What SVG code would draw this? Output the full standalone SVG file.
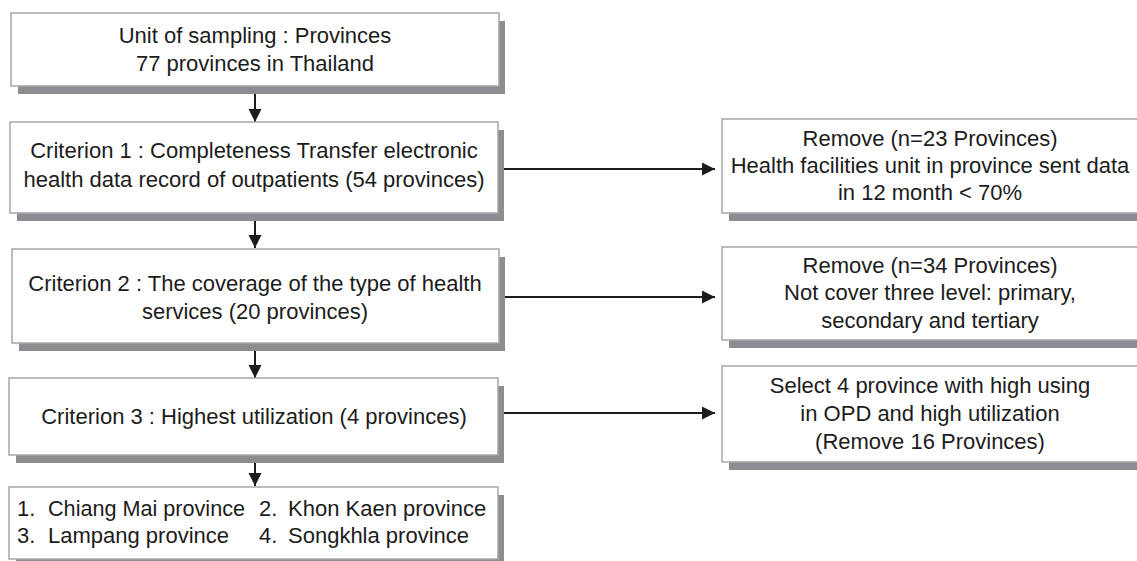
<svg xmlns="http://www.w3.org/2000/svg" width="1137" height="561" viewBox="0 0 1137 561">
<defs>
<style>
.box{fill:#ffffff;stroke:#a6a6a8;stroke-width:1.5}
.sh{fill:#8c8d91}
text{font-family:"Liberation Sans",Arial,Helvetica,sans-serif;font-size:22px;fill:#1c1c1c}
.c{text-anchor:middle}
.ln{stroke:#1c1c1c;stroke-width:2;fill:none}
</style>
<marker id="ah" markerUnits="userSpaceOnUse" markerWidth="14" markerHeight="14" refX="13" refY="6.5" orient="auto">
<path d="M0,0 L13,6.5 L0,13 Z" fill="#1c1c1c"/>
</marker>
</defs>
<rect width="1137" height="561" fill="#ffffff"/>

<g id="connectors">
<line class="ln" x1="255" y1="86" x2="255" y2="122" marker-end="url(#ah)"/>
<line class="ln" x1="255" y1="221" x2="255" y2="248" marker-end="url(#ah)"/>
<line class="ln" x1="255" y1="351" x2="255" y2="378" marker-end="url(#ah)"/>
<line class="ln" x1="255" y1="463" x2="255" y2="486" marker-end="url(#ah)"/>
<line class="ln" x1="504" y1="169" x2="715" y2="169" marker-end="url(#ah)"/>
<line class="ln" x1="505" y1="297" x2="715" y2="297" marker-end="url(#ah)"/>
<line class="ln" x1="504" y1="413" x2="715" y2="413" marker-end="url(#ah)"/>
</g>

<g id="unit">
<rect class="sh" x="18" y="21" width="487" height="73"/>
<rect class="box" x="11" y="13" width="488" height="73"/>
<text class="c" x="255" y="43">Unit of sampling : Provinces</text>
<text class="c" x="255" y="71">77 provinces in Thailand</text>
</g>

<g id="criterion1">
<rect class="sh" x="17" y="130" width="487" height="91"/>
<rect class="box" x="10" y="122" width="488" height="91"/>
<text class="c" x="254" y="158">Criterion 1 : Completeness Transfer electronic</text>
<text class="c" x="254" y="187">health data record of outpatients (54 provinces)</text>
</g>

<g id="criterion2">
<rect class="sh" x="19" y="257" width="486" height="94"/>
<rect class="box" x="12" y="249" width="487" height="94"/>
<text class="c" x="255" y="291">Criterion 2 : The coverage of the type of health</text>
<text class="c" x="255" y="319">services (20 provinces)</text>
</g>

<g id="criterion3">
<rect class="sh" x="16" y="386" width="488" height="77"/>
<rect class="box" x="9" y="378" width="489" height="77"/>
<text class="c" x="254" y="424">Criterion 3 : Highest utilization (4 provinces)</text>
</g>

<g id="result">
<rect class="sh" x="16" y="495" width="488" height="72"/>
<rect class="box" x="9" y="487" width="489" height="72"/>
<text x="17" y="516">1.</text>
<text x="48" y="516" textLength="197" lengthAdjust="spacingAndGlyphs">Chiang Mai province</text>
<text x="259" y="516">2.</text>
<text x="288" y="516">Khon Kaen province</text>
<text x="17" y="543">3.</text>
<text x="48" y="543">Lampang province</text>
<text x="259" y="543">4.</text>
<text x="288" y="543">Songkhla province</text>
</g>

<g id="remove1">
<rect class="sh" x="729" y="127" width="420" height="94"/>
<rect class="box" x="722" y="119" width="420" height="94"/>
<text class="c" x="930" y="146">Remove (n=23 Provinces)</text>
<text class="c" x="930" y="173">Health facilities unit in province sent data</text>
<text class="c" x="930" y="200">in 12 month &lt; 70%</text>
</g>

<g id="remove2">
<rect class="sh" x="729" y="255" width="420" height="93"/>
<rect class="box" x="722" y="247" width="420" height="93"/>
<text class="c" x="930" y="273">Remove (n=34 Provinces)</text>
<text class="c" x="930" y="300">Not cover three level: primary,</text>
<text class="c" x="930" y="328">secondary and tertiary</text>
</g>

<g id="select">
<rect class="sh" x="729" y="374" width="420" height="96"/>
<rect class="box" x="722" y="366" width="420" height="96"/>
<text class="c" x="930" y="393">Select 4 province with high using</text>
<text class="c" x="930" y="421">in OPD and high utilization</text>
<text class="c" x="930" y="449">(Remove 16 Provinces)</text>
</g>
</svg>
